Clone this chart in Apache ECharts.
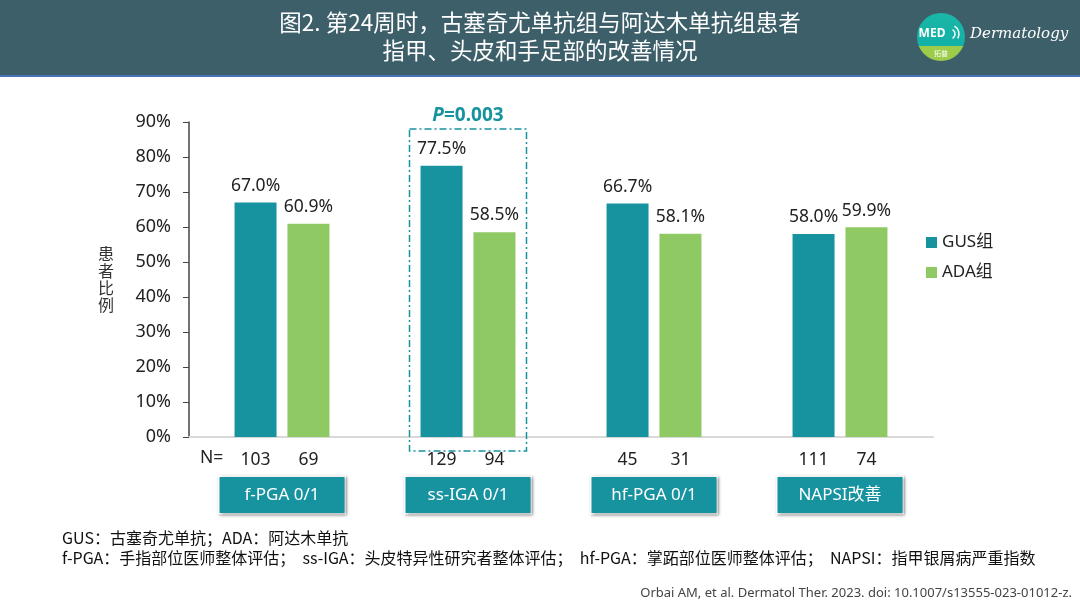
<!DOCTYPE html>
<html>
<head>
<meta charset="utf-8">
<script src="https://cdn.jsdelivr.net/npm/echarts@6/dist/echarts.min.js"></script>
<style>
  html, body { margin: 0; padding: 0; background: #fff; }
  #chart { width: 1080px; height: 608px; }
</style>
</head>
<body>
<div id="chart"></div>
<script>
// 数据
const categories = ["f-PGA 0/1", "ss-IGA 0/1", "hf-PGA 0/1", "NAPSI改善"];
const seriesNames = ["GUS组", "ADA组"];
const gusValues = [67.0, 77.5, 66.7, 58.0];
const adaValues = [60.9, 58.5, 58.1, 59.9];
const gusN = [103, 129, 45, 111];
const adaN = [69, 94, 31, 74];

const TEAL = "#1793a0";
const GREEN = "#8fc964";
const FONT = "'Noto Sans', 'Noto Sans CJK SC', sans-serif";

const myChart = echarts.init(document.querySelector("#chart"));

const labelStyle = {
  show: true,
  position: "top",
  distance: 8,
  fontSize: 17.5,
  color: "#222",
  fontFamily: FONT,
  formatter: (p) => p.value.toFixed(1) + "%",
};

const option = {
  animation: false,
  textStyle: { fontFamily: FONT },
  grid: { left: 189, right: 147, top: 122, bottom: 171 },
  legend: {
    orient: "vertical",
    left: 921,
    top: 229,
    itemWidth: 11,
    itemHeight: 11,
    itemGap: 13,
    icon: "rect",
    textStyle: { fontSize: 17, color: "#222", fontFamily: FONT },
    data: seriesNames,
  },
  xAxis: {
    type: "category",
    data: categories,
    axisLine: { lineStyle: { color: "#d9d9d9", width: 2 } },
    axisTick: { show: false },
    axisLabel: {
      margin: 10,
      interval: 0,
      formatter: (val, i) =>
        `{n|${gusN[i]}}{n|${adaN[i]}}\n{box|${val}}`,
      rich: {
        n: { width: 53, align: "center", fontSize: 17.5, color: "#222", lineHeight: 26, fontFamily: FONT },
        box: {
          width: 125,
          height: 36,
          lineHeight: 44,
          align: "center",
          fontSize: 17,
          color: "#fff",
          fontFamily: FONT,
          backgroundColor: TEAL,
          borderColor: "#fff",
          borderWidth: 1.5,
          shadowColor: "rgba(0,0,0,0.35)",
          shadowBlur: 3,
          shadowOffsetX: 1,
          shadowOffsetY: 1,
        },
      },
    },
  },
  yAxis: {
    type: "value",
    min: 0,
    max: 90,
    interval: 10,
    name: "患\n者\n比\n例",
    nameLocation: "middle",
    nameRotate: 0,
    nameGap: 75,
    nameTextStyle: { fontSize: 16, lineHeight: 17, color: "#333", fontFamily: "'Noto Sans CJK SC', sans-serif" },
    axisLine: { show: true, lineStyle: { color: "#444", width: 1.5 } },
    axisTick: { show: true, length: 6, lineStyle: { color: "#444" } },
    axisLabel: {
      margin: 18,
      fontSize: 18,
      color: "#222",
      fontFamily: FONT,
      formatter: "{value}%",
    },
    splitLine: { show: false },
  },
  series: [
    {
      name: seriesNames[0],
      type: "bar",
      barWidth: 42,
      barGap: "26%",
      data: gusValues,
      itemStyle: { color: TEAL },
      label: labelStyle,
    },
    {
      name: seriesNames[1],
      type: "bar",
      barWidth: 42,
      data: adaValues,
      itemStyle: { color: GREEN },
      label: labelStyle,
    },
  ],
};
myChart.setOption(option);

// 标注：虚线框、P值、表头、脚注
const boxTop = myChart.convertToPixel({ gridIndex: 0 }, [1, 88]);
const boxBottom = myChart.convertToPixel({ gridIndex: 0 }, [1, -4]);
const zeroPt = myChart.convertToPixel({ gridIndex: 0 }, [0, 0]);
const boxHalf = 58.5;

myChart.setOption({
  graphic: [
    // 表头
    { type: "rect", left: 0, top: 0, shape: { width: 1080, height: 75 }, style: { fill: "#3d5f69" }, z: 1 },
    { type: "rect", left: 0, top: 75, shape: { width: 1080, height: 2 }, style: { fill: "#4a72b8" }, z: 1 },
    {
      type: "text",
      x: 540,
      y: 36,
      z: 2,
      style: {
        text: "图2. 第24周时，古塞奇尤单抗组与阿达木单抗组患者\n指甲、头皮和手足部的改善情况",
        fill: "#fff",
        fontSize: 22.5,
        lineHeight: 28,
        fontFamily: "'Noto Sans CJK SC', sans-serif",
        align: "center",
        verticalAlign: "middle",
      },
    },
    // logo
    {
      type: "circle",
      z: 2,
      shape: { cx: 941, cy: 37, r: 24 },
      style: {
        fill: {
          type: "linear", x: 0, y: 0, x2: 0, y2: 1,
          colorStops: [
            { offset: 0, color: "#1ab7a6" },
            { offset: 0.69, color: "#12b0a8" },
            { offset: 0.69, color: "#9ccc4a" },
            { offset: 1, color: "#9ccc4a" },
          ],
        },
      },
    },
    { type: "text", z: 3, x: 932, y: 34, style: { text: "MED", fill: "#fff", fontSize: 12, fontWeight: "bold", fontFamily: "'Noto Sans', sans-serif", align: "center", verticalAlign: "middle" } },
    { type: "text", z: 3, x: 941, y: 53, style: { text: "拓普", fill: "#fff", fontSize: 7, fontFamily: "'Noto Sans CJK SC', sans-serif", align: "center", verticalAlign: "middle" } },
    { type: "arc", z: 3, shape: { cx: 950, cy: 34, r: 5, startAngle: -Math.PI / 3, endAngle: Math.PI / 3 }, style: { stroke: "#fff", lineWidth: 1.5, fill: null } },
    { type: "arc", z: 3, shape: { cx: 950, cy: 34, r: 9, startAngle: -Math.PI / 3, endAngle: Math.PI / 6 }, style: { stroke: "#fff", lineWidth: 1.5, fill: null } },
    {
      type: "text",
      z: 2,
      x: 970,
      y: 34,
      style: {
        text: "Dermatology",
        fill: "#fff",
        fontSize: 15,
        fontStyle: "italic",
        fontFamily: "'DejaVu Serif', serif",
        verticalAlign: "middle",
      },
    },
    // 虚线框
    {
      type: "rect",
      z: 5,
      shape: { x: boxTop[0] - boxHalf, y: boxTop[1], width: boxHalf * 2, height: boxBottom[1] - boxTop[1] },
      style: { fill: null, stroke: TEAL, lineWidth: 1.5, lineDash: [7, 3, 2, 3] },
    },
    {
      type: "text",
      z: 5,
      x: boxTop[0],
      y: boxTop[1] - 13,
      style: {
        rich: {
          p: { fontStyle: "italic", fontWeight: "bold", fontSize: 19, fill: TEAL, fontFamily: FONT },
          v: { fontWeight: "bold", fontSize: 19, fill: TEAL, fontFamily: FONT },
        },
        text: "{p|P}{v|=0.003}",
        align: "center",
        verticalAlign: "middle",
      },
    },
    // N=
    {
      type: "text",
      z: 5,
      x: zeroPt[0] - 100 + 18,
      y: zeroPt[1] + 21,
      style: { text: "N=", fontSize: 17.5, fill: "#222", fontFamily: FONT, verticalAlign: "middle" },
    },
    // 脚注
    {
      type: "text",
      z: 5,
      x: 62,
      y: 548,
      style: {
        text: "GUS：古塞奇尤单抗；ADA：阿达木单抗\nf-PGA：手指部位医师整体评估；  ss-IGA：头皮特异性研究者整体评估；  hf-PGA：掌跖部位医师整体评估；  NAPSI：指甲银屑病严重指数",
        fontSize: 16,
        lineHeight: 20,
        fill: "#111",
        fontFamily: "'Noto Sans CJK SC', sans-serif",
        verticalAlign: "middle",
      },
    },
    {
      type: "text",
      z: 5,
      x: 1072,
      y: 593,
      style: {
        text: "Orbai AM, et al. Dermatol Ther. 2023. doi: 10.1007/s13555-023-01012-z.",
        fontSize: 13,
        fill: "#444",
        fontFamily: FONT,
        align: "right",
        verticalAlign: "middle",
      },
    },
  ],
});
</script>
</body>
</html>
